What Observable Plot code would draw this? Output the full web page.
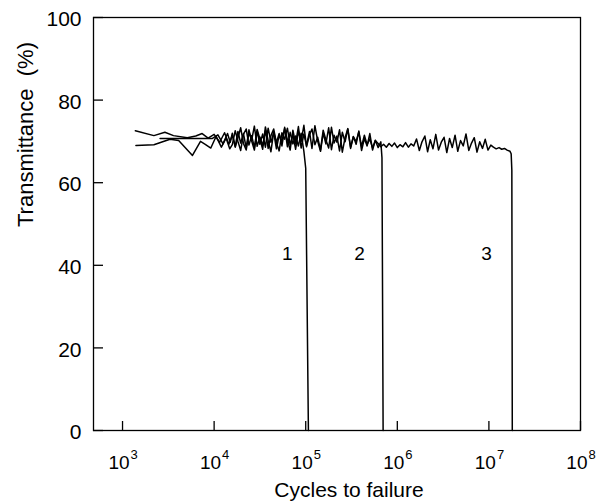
<!DOCTYPE html>
<html><head><meta charset="utf-8">
<script src="https://cdn.jsdelivr.net/npm/d3@7"></script>
<script src="https://cdn.jsdelivr.net/npm/@observablehq/plot@0.6"></script>
<style>body{margin:0;background:#fff}</style>
</head><body><div id="chart"></div>
<script>
// Shared cycle grid for the dense (noisy) part of the records
const cycleGrid = [
1.58e4,1.70e4,1.82e4,1.95e4,2.09e4,2.24e4,2.40e4,2.57e4,2.75e4,2.95e4,
3.16e4,3.39e4,3.63e4,3.89e4,4.17e4,4.47e4,4.79e4,5.13e4,5.50e4,5.89e4,
6.31e4,6.76e4,7.24e4,7.76e4,8.32e4,8.91e4,9.55e4,1.02e5,1.10e5,1.17e5,
1.26e5,1.35e5,1.45e5,1.55e5,1.66e5,1.78e5,1.91e5,2.04e5,2.19e5,2.34e5,
2.51e5,2.69e5,2.88e5,3.09e5,3.31e5,3.55e5,3.80e5,4.07e5,4.37e5,4.68e5,
5.01e5,5.37e5,5.75e5,6.17e5,6.61e5,7.08e5,7.59e5,8.13e5,8.71e5,9.33e5,
1.00e6,1.07e6,1.15e6,1.23e6,1.32e6,1.41e6,1.51e6,1.62e6,1.74e6,1.86e6,
2.00e6,2.14e6,2.29e6,2.45e6,2.63e6,2.82e6,3.02e6,3.24e6,3.47e6,3.72e6,
3.98e6,4.27e6,4.57e6,4.90e6,5.25e6,5.62e6,6.03e6,6.46e6,6.92e6,7.41e6,
7.94e6,8.51e6,9.12e6,9.77e6,1.05e7,1.12e7,1.20e7,1.29e7,1.38e7,1.48e7,
1.58e7,1.70e7];

// Specimen 1
const s1EarlyCycles = [1.38e3,2.2e3,2.9e3,3.6e3,5.1e3,6.3e3,7.4e3,8.6e3,1.0e4,1.15e4,1.3e4,1.45e4];
const s1EarlyT      = [72.6,71.4,72.2,71.4,70.9,71.3,71.9,70.8,71.7,69.8,72.1,69.3];
const s1DenseT = [71.5,68.8,72.4,69.6,71.9,68.4,72.8,70.1,67.9,72.5,69.3,71.8,68.6,73.2,69.8,72.1,68.2,71.6,69.9,73.4,68.7,72.2,69.4,71.3,68.9,72.0,67.6];
const s1EndCycles = [1.0e5,1.07e5];
const s1EndT      = [63.5,0];

// Specimen 2
const s2EarlyCycles = [1.40e3,2.2e3,3.3e3,4.1e3,5.8e3,7.1e3,8.0e3,9.2e3,1.05e4,1.2e4,1.35e4,1.48e4];
const s2EarlyT      = [69.0,69.2,70.5,70.2,66.6,70.0,69.3,68.4,71.2,68.6,70.8,68.2];
const s2DenseT = [69.2,72.6,70.0,67.8,71.7,73.0,69.1,71.4,68.5,72.9,70.6,68.1,73.5,70.2,67.5,72.3,69.7,71.9,68.9,73.1,70.4,67.9,72.7,69.5,73.6,68.4,71.8,
69.0,72.4,68.3,73.8,70.1,67.6,72.0,69.4,73.3,68.0,71.5,69.8,72.8,67.4,70.9,73.1,68.6,71.2,69.3,72.5,67.8,70.7,68.9,71.9,67.9,70.3,68.5,69.9];
const s2EndCycles = [6.8e5,7.0e5];
const s2EndT      = [66.0,0];

// Specimen 3
const s3EarlyCycles = [2.57e3,9.5e3,1.1e4,1.25e4,1.4e4,1.5e4];
const s3EarlyT      = [70.7,70.7,71.6,69.4,71.9,69.8];
const s3DenseT = [72.0,68.6,70.9,73.3,69.5,67.9,72.2,70.3,73.7,68.8,71.1,69.0,72.6,68.3,71.4,73.0,69.6,67.7,72.1,70.5,73.2,69.1,71.7,68.1,72.4,70.0,73.9,
68.7,71.6,73.0,69.2,71.0,67.9,72.7,70.4,68.4,73.4,69.6,71.3,67.7,72.2,69.9,73.0,68.3,71.1,70.0,72.3,68.8,71.5,69.2,70.6,68.4,70.2,69.5,68.7,
69.3,68.6,69.5,68.8,69.6,68.5,69.2,68.7,69.7,68.6,69.4,68.9,
70.6,67.8,69.9,71.3,67.5,70.4,68.2,71.7,67.9,69.8,71.0,67.3,70.7,68.5,71.5,67.6,70.2,68.9,71.8,67.8,69.6,70.9,67.4,69.9,68.3,70.5,67.9,69.1,
68.6,68.2,68.5,68.1,68.3,67.9,67.6];
const s3EndCycles = [1.75e7,1.78e7,1.80e7];
const s3EndT      = [67.0,63.0,0];

// Axis ticks and annotations
const xTicks = [1e3,1e4,1e5,1e6,1e7,1e8];
const xTickExp = ["3","4","5","6","7","8"];
const yTicks = [0,20,40,60,80,100];
const curveLabels = ["1","2","3"];
const curveLabelCycles = [6.3e4,3.86e5,9.4e6];
const curveLabelT = [42.7,42.7,42.7];

function build(name, ec, et, dense, endc, endt) {
  const pts = [];
  ec.forEach((c,i)=>pts.push({series:name, cycles:c, t:et[i]}));
  dense.forEach((t,i)=>pts.push({series:name, cycles:cycleGrid[i], t}));
  endc.forEach((c,i)=>pts.push({series:name, cycles:c, t:endt[i]}));
  return pts;
}
const data = [
  ...build("1", s1EarlyCycles, s1EarlyT, s1DenseT, s1EndCycles, s1EndT),
  ...build("2", s2EarlyCycles, s2EarlyT, s2DenseT, s2EndCycles, s2EndT),
  ...build("3", s3EarlyCycles, s3EarlyT, s3DenseT, s3EndCycles, s3EndT)
];
const labels = curveLabels.map((s,i)=>({s, cycles:curveLabelCycles[i], t:curveLabelT[i]}));

const font = "'Liberation Sans', Arial, Helvetica, sans-serif";
const chart = Plot.plot({
  width: 597, height: 503,
  marginLeft: 93, marginRight: 17, marginTop: 17, marginBottom: 73,
  style: {fontFamily: font, background: "#fff", color: "#000"},
  x: {type: "log", domain: [482, 1e8], axis: null},
  y: {domain: [0, 100], axis: null},
  marks: [
    Plot.lineY(data, {x: "cycles", y: "t", z: "series", stroke: "#000", strokeWidth: 1.5, strokeLinejoin: "round"}),
    Plot.frame({stroke: "#000", strokeWidth: 1.3}),
    Plot.ruleY(yTicks, {y: d=>d, insetRight: 477, stroke: "#000", strokeWidth: 1.3}),
    Plot.ruleX(xTicks, {x: d=>d, insetTop: 404, stroke: "#000", strokeWidth: 1.3}),
    Plot.text(yTicks, {y: d=>d, frameAnchor: "left", dx: -12, dy: 2, textAnchor: "end", text: d=>String(d), fontSize: 21, fill: "#000"}),
    Plot.text(xTicks, {x: d=>d, frameAnchor: "bottom", dx: 7, dy: 38, textAnchor: "end", lineAnchor: "bottom", text: ()=>"10", fontSize: 19, fill: "#000"}),
    Plot.text(xTicks, {x: d=>d, frameAnchor: "bottom", dx: 8, dy: 28, textAnchor: "start", lineAnchor: "bottom", text: (d,i)=>xTickExp[i], fontSize: 13, fill: "#000"}),
    Plot.text(labels, {x: "cycles", y: "t", text: "s", fontSize: 19, fill: "#000"}),
    Plot.text(["Cycles to failure"], {frameAnchor: "bottom", dx: 12, dy: 66, lineAnchor: "bottom", fontSize: 21, fill: "#000"}),
    Plot.text(["Transmittance  (%)"], {frameAnchor: "left", dx: -68, dy: 3, rotate: -90, fontSize: 22, fill: "#000"})
  ]
});
document.getElementById("chart").appendChild(chart);
</script>
</body></html>
